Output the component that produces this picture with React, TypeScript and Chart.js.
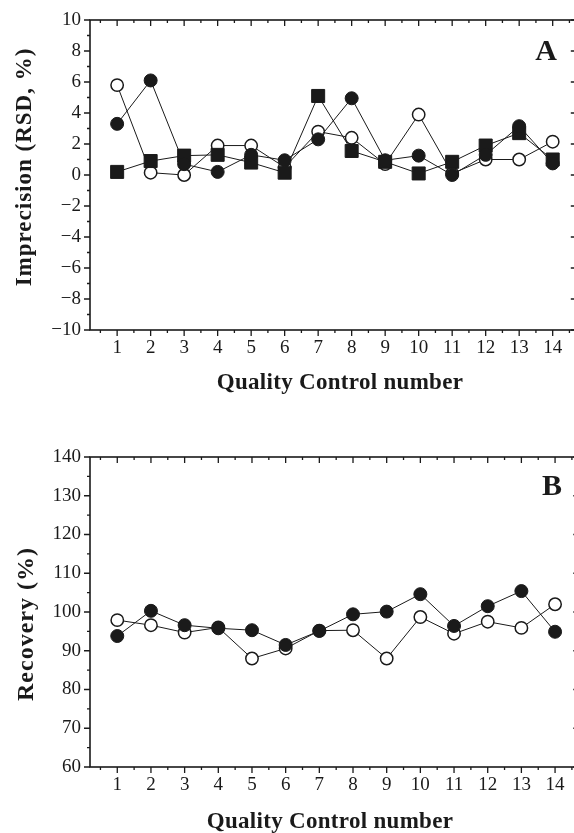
import React, { useEffect, useRef } from "react";
import { Chart, registerables } from "chart.js";

Chart.register(...registerables);

// ---------- data ----------
const qcNumbers = [1, 2, 3, 4, 5, 6, 7, 8, 9, 10, 11, 12, 13, 14];
const xTickLabels = ["1", "2", "3", "4", "5", "6", "7", "8", "9", "10", "11", "12", "13", "14"];

// Panel A: imprecision (RSD, %)
const rsdOpenCircle = [5.8, 0.15, 0.0, 1.9, 1.9, 0.5, 2.8, 2.4, 0.7, 3.9, 0.1, 1.0, 1.0, 2.15];
const rsdFilledCircle = [3.3, 6.1, 0.7, 0.2, 1.3, 0.95, 2.3, 4.95, 0.95, 1.25, 0.0, 1.3, 3.15, 0.75];
const rsdSquare = [0.2, 0.9, 1.25, 1.3, 0.8, 0.15, 5.1, 1.55, 0.85, 0.1, 0.85, 1.9, 2.7, 1.0];
const rsdTicks = [-10, -8, -6, -4, -2, 0, 2, 4, 6, 8, 10];
const rsdTickLabels = ["\u221210", "\u22128", "\u22126", "\u22124", "\u22122", "0", "2", "4", "6", "8", "10"];
const rsdMinorTicks = [-9, -7, -5, -3, -1, 1, 3, 5, 7, 9];

// Panel B: recovery (%)
const recOpenCircle = [97.9, 96.6, 94.7, 96.0, 88.0, 90.6, 95.2, 95.3, 88.0, 98.7, 94.4, 97.5, 95.9, 102.0];
const recFilledCircle = [93.8, 100.3, 96.6, 95.8, 95.3, 91.5, 95.1, 99.4, 100.1, 104.6, 96.4, 101.5, 105.4, 94.9];
const recTicks = [60, 70, 80, 90, 100, 110, 120, 130, 140];
const recTickLabels = ["60", "70", "80", "90", "100", "110", "120", "130", "140"];
const recMinorTicks = [65, 75, 85, 95, 105, 115, 125, 135];

const xMinorTicks = [0.5, 1.5, 2.5, 3.5, 4.5, 5.5, 6.5, 7.5, 8.5, 9.5, 10.5, 11.5, 12.5, 13.5, 14.5];

// ---------- styling ----------
const SERIF = "'Liberation Serif', 'Times New Roman', Times, serif";
const CANVAS_W = 586;

type PanelCfg = {
  height: number;
  plotTop: number;
  plotBottom: number;
  yMin: number;
  yMax: number;
  yTicks: number[];
  yTickLabels: string[];
  yMinor: number[];
  yTitle: string;
  yTitlePos: [number, number];
  yTitleSize: number;
  xTitle: string;
  xTitlePos: [number, number];
  label: string;
  labelPos: [number, number];
  datasets: any[];
};

const series = (values: number[]) => qcNumbers.map((x, i) => ({ x, y: values[i] }));

const openCircle = (values: number[]) => ({
  data: series(values),
  borderColor: "#1a1a1a",
  borderWidth: 1,
  pointStyle: "circle",
  pointRadius: 6.2,
  pointBorderWidth: 1.5,
  pointBackgroundColor: "#ffffff",
  pointBorderColor: "#1a1a1a",
  tension: 0,
});
const filledCircle = (values: number[]) => ({
  data: series(values),
  borderColor: "#1a1a1a",
  borderWidth: 1,
  pointStyle: "circle",
  pointRadius: 6.5,
  pointBorderWidth: 1,
  pointBackgroundColor: "#1a1a1a",
  pointBorderColor: "#1a1a1a",
  tension: 0,
});
const filledSquare = (values: number[]) => ({
  data: series(values),
  borderColor: "#1a1a1a",
  borderWidth: 1,
  pointStyle: "rect",
  pointRadius: 9.2,
  pointBorderWidth: 1,
  pointBackgroundColor: "#1a1a1a",
  pointBorderColor: "#1a1a1a",
  tension: 0,
});

const framePlugin = (cfg: PanelCfg) => ({
  id: "frameTicks",
  afterDraw(chart: any) {
    const { ctx, chartArea } = chart;
    const xs = chart.scales.x;
    const ys = chart.scales.y;
    const { left, right, top, bottom } = chartArea;
    ctx.save();
    ctx.strokeStyle = "#1a1a1a";
    ctx.lineWidth = 1.6;
    ctx.strokeRect(left, top, right - left, bottom - top);
    ctx.lineWidth = 1.3;
    ctx.beginPath();
    qcNumbers.forEach((v) => {
      const px = xs.getPixelForValue(v);
      ctx.moveTo(px, bottom);
      ctx.lineTo(px, bottom + 6);
      ctx.moveTo(px, top);
      ctx.lineTo(px, top + 6);
    });
    xMinorTicks.forEach((v) => {
      const px = xs.getPixelForValue(v);
      ctx.moveTo(px, bottom);
      ctx.lineTo(px, bottom + 3);
      ctx.moveTo(px, top);
      ctx.lineTo(px, top + 3);
    });
    cfg.yTicks.forEach((v) => {
      const py = ys.getPixelForValue(v);
      ctx.moveTo(left, py);
      ctx.lineTo(left - 6, py);
      ctx.moveTo(right, py);
      ctx.lineTo(right - 5, py);
    });
    cfg.yMinor.forEach((v) => {
      const py = ys.getPixelForValue(v);
      ctx.moveTo(left, py);
      ctx.lineTo(left - 3, py);
    });
    ctx.stroke();

    ctx.fillStyle = "#1a1a1a";
    ctx.textAlign = "center";
    ctx.textBaseline = "middle";
    ctx.font = `bold 23px ${SERIF}`;
    (ctx as any).letterSpacing = "0.3px";
    ctx.fillText(cfg.xTitle, cfg.xTitlePos[0], cfg.xTitlePos[1]);
    (ctx as any).letterSpacing = "0px";
    ctx.font = `bold 30px ${SERIF}`;
    ctx.fillText(cfg.label, cfg.labelPos[0], cfg.labelPos[1]);
    ctx.font = `bold ${cfg.yTitleSize}px ${SERIF}`;
    (ctx as any).letterSpacing = "1px";
    ctx.translate(cfg.yTitlePos[0], cfg.yTitlePos[1]);
    ctx.rotate(-Math.PI / 2);
    ctx.fillText(cfg.yTitle, 0, 0);
    ctx.restore();
  },
});

function Panel({ cfg, top }: { cfg: PanelCfg; top: number }) {
  const ref = useRef<HTMLCanvasElement | null>(null);
  useEffect(() => {
    if (!ref.current) return;
    const chart = new Chart(ref.current, {
      type: "line",
      data: { datasets: cfg.datasets },
      options: {
        responsive: false,
        animation: false,
        devicePixelRatio: 1,
        layout: { padding: { top: cfg.plotTop, right: 4, left: 0, bottom: 0 } },
        plugins: { legend: { display: false }, tooltip: { enabled: false } },
        scales: {
          x: {
            type: "linear",
            min: 0.19,
            max: 14.69,
            grid: { display: false, drawTicks: false },
            border: { display: false },
            afterBuildTicks: (s: any) => {
              s.ticks = qcNumbers.map((v) => ({ value: v }));
            },
            afterFit: (s: any) => {
              s.height = cfg.height - cfg.plotBottom;
              s.paddingLeft = 0;
              s.paddingRight = 0;
            },
            ticks: {
              autoSkip: false,
              maxRotation: 0,
              padding: 7,
              color: "#1a1a1a",
              font: { family: SERIF, size: 19 },
              callback: (v: any) => {
                const i = qcNumbers.indexOf(Number(v));
                return i >= 0 ? xTickLabels[i] : "";
              },
            },
          },
          y: {
            type: "linear",
            min: cfg.yMin,
            max: cfg.yMax,
            grid: { display: false, drawTicks: false },
            border: { display: false },
            afterBuildTicks: (s: any) => {
              s.ticks = cfg.yTicks.map((v) => ({ value: v }));
            },
            afterFit: (s: any) => {
              s.width = 90;
              s.paddingTop = 0;
              s.paddingBottom = 0;
            },
            ticks: {
              padding: 9,
              color: "#1a1a1a",
              font: { family: SERIF, size: 19 },
              callback: (v: any) => {
                const i = cfg.yTicks.indexOf(Number(v));
                return i >= 0 ? cfg.yTickLabels[i] : "";
              },
            },
          },
        },
      } as any,
      plugins: [framePlugin(cfg)],
    });
    return () => chart.destroy();
  }, []);
  return (
    <canvas
      ref={ref}
      width={CANVAS_W}
      height={cfg.height}
      style={{ position: "absolute", left: 0, top, width: CANVAS_W, height: cfg.height }}
    />
  );
}

const panelA: PanelCfg = {
  height: 400,
  plotTop: 20,
  plotBottom: 330,
  yMin: -10,
  yMax: 10,
  yTicks: rsdTicks,
  yTickLabels: rsdTickLabels,
  yMinor: rsdMinorTicks,
  yTitle: "Imprecision (RSD, %)",
  yTitlePos: [25, 167],
  yTitleSize: 23,
  xTitle: "Quality Control number",
  xTitlePos: [340, 383],
  label: "A",
  labelPos: [546, 52],
  datasets: [filledCircle(rsdFilledCircle), filledSquare(rsdSquare), openCircle(rsdOpenCircle)],
};

const panelB: PanelCfg = {
  height: 433,
  plotTop: 57,
  plotBottom: 367,
  yMin: 60,
  yMax: 140,
  yTicks: recTicks,
  yTickLabels: recTickLabels,
  yMinor: recMinorTicks,
  yTitle: "Recovery (%)",
  yTitlePos: [27, 224],
  yTitleSize: 24,
  xTitle: "Quality Control number",
  xTitlePos: [330, 422],
  label: "B",
  labelPos: [552, 87],
  datasets: [filledCircle(recFilledCircle), openCircle(recOpenCircle)],
};

export default function App() {
  return (
    <div
      style={{
        position: "absolute",
        left: 0,
        top: 0,
        width: 574,
        height: 833,
        overflow: "hidden",
        background: "#ffffff",
      }}
    >
      <Panel cfg={panelA} top={0} />
      <Panel cfg={panelB} top={400} />
    </div>
  );
}
